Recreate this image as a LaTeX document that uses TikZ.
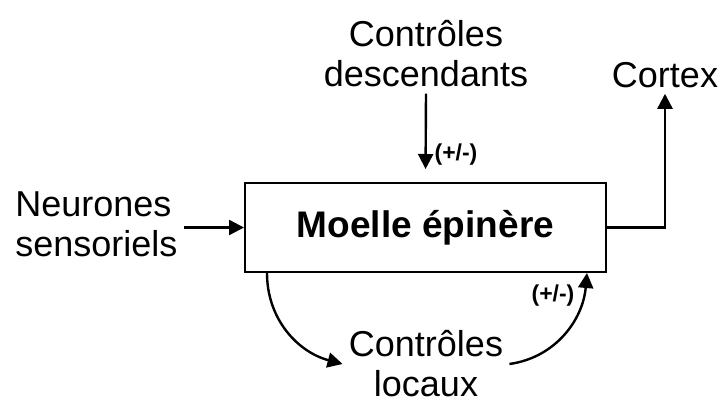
\documentclass[tikz,border=0pt]{standalone}
\usepackage{fontspec}
\setmainfont{Liberation Sans}
\usepackage{tikz}
\usetikzlibrary{positioning, arrows.meta}
\tikzstyle{label} = [align=center, font=\fontsize{18}{20}\selectfont, inner sep=3pt]
\tikzstyle{organ} = [rectangle, minimum width=180.5pt, minimum height=44.5pt, draw=black, line width=1pt, font=\fontsize{18.5}{20}\selectfont\bfseries]
\tikzstyle{sign} = [font=\fontsize{11.5}{12}\selectfont\bfseries, inner sep=1pt]
\tikzstyle{arrow} = [line width=1.2pt, -{Triangle[length=7.5pt, width=7.5pt]}]

\begin{document}
\begin{tikzpicture}[x=0.5pt, y=-0.5pt]
            \useasboundingbox (0,0) rectangle (725,408);
            \node (moelle) [organ] at (425.5,227.5) {Moelle épinère};
            \node (sensoriels) [label, align=left, anchor=west] at (9,224) {Neurones\\sensoriels};
            \node (descendants) [label] at (426,54) {Contrôles\\descendants};
            \node (cortex) [label, anchor=base] at (665,87) {Cortex};
            \node (locaux) [label] at (426,364) {Contrôles\\locaux};

            \draw [arrow] (sensoriels.east |- moelle.west) -- (moelle.west);
            \draw [arrow, shorten >=6.5pt] (descendants.south) -- (moelle.north);
            \node (signhaut) [sign] at (456,155) {(+/-)};
            \draw [arrow] (moelle.east) -| (cortex.south);
            \draw [arrow] ([xshift=11.5pt]moelle.south west) to[out=-90, in=165] (locaux.west);
            \draw [arrow] (locaux.east) to[out=8, in=-95] ([xshift=-10pt]moelle.south east);
            \node (signbas) [sign] at (553,296) {(+/-)};

\end{tikzpicture}
\end{document}
